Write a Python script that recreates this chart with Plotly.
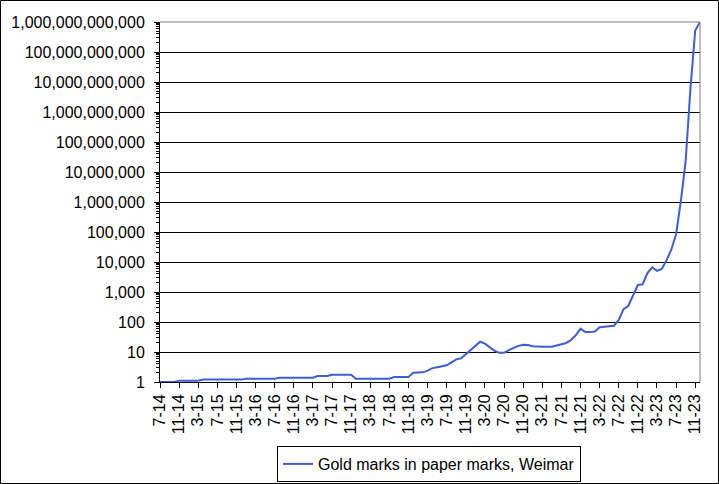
import plotly.graph_objects as go

months = [
    "7-14", "8-14", "9-14", "10-14", "11-14", "12-14",
    "1-15", "2-15", "3-15", "4-15", "5-15", "6-15", "7-15", "8-15", "9-15", "10-15", "11-15", "12-15",
    "1-16", "2-16", "3-16", "4-16", "5-16", "6-16", "7-16", "8-16", "9-16", "10-16", "11-16", "12-16",
    "1-17", "2-17", "3-17", "4-17", "5-17", "6-17", "7-17", "8-17", "9-17", "10-17", "11-17", "12-17",
    "1-18", "2-18", "3-18", "4-18", "5-18", "6-18", "7-18", "8-18", "9-18", "10-18", "11-18", "12-18",
    "1-19", "2-19", "3-19", "4-19", "5-19", "6-19", "7-19", "8-19", "9-19", "10-19", "11-19", "12-19",
    "1-20", "2-20", "3-20", "4-20", "5-20", "6-20", "7-20", "8-20", "9-20", "10-20", "11-20", "12-20",
    "1-21", "2-21", "3-21", "4-21", "5-21", "6-21", "7-21", "8-21", "9-21", "10-21", "11-21", "12-21",
    "1-22", "2-22", "3-22", "4-22", "5-22", "6-22", "7-22", "8-22", "9-22", "10-22", "11-22", "12-22",
    "1-23", "2-23", "3-23", "4-23", "5-23", "6-23", "7-23", "8-23", "9-23", "10-23", "11-23", "12-23",
]

gold_in_paper = [
    1.0, 1.0, 1.0, 1.0, 1.1, 1.1,
    1.1, 1.1, 1.1, 1.2, 1.2, 1.2, 1.2, 1.2, 1.2, 1.2, 1.2, 1.2,
    1.29, 1.29, 1.29, 1.29, 1.29, 1.29, 1.29, 1.39, 1.39, 1.39, 1.39, 1.39,
    1.39, 1.39, 1.39, 1.58, 1.58, 1.58, 1.75, 1.75, 1.75, 1.75, 1.75, 1.29,
    1.29, 1.29, 1.29, 1.29, 1.29, 1.29, 1.29, 1.47, 1.47, 1.47, 1.47, 2.05,
    2.05, 2.1, 2.4, 2.9, 3.1, 3.3, 3.6, 4.5, 5.7, 6.2, 8.5, 11,
    15.4, 22, 19, 14, 11, 9.4, 9.4, 11.5, 13.5, 16, 17.5, 17,
    15.5, 15, 15, 15, 15, 16.5, 18.5, 20, 25, 36, 60, 46,
    46, 48, 67, 69, 69, 75, 117, 270, 349, 757, 1711, 1807,
    4279, 6647, 5045, 5823, 11350, 26190, 84150, 1100100, 23540000, 6014300000,
    522000000000, 1000000000000,
]

x_tick_labels = months[::4]

y_tick_vals = [1, 10, 100, 1000, 10000, 100000, 1000000, 10000000, 100000000,
               1000000000, 10000000000, 100000000000, 1000000000000]
y_tick_text = ["1", "10", "100", "1,000", "10,000", "100,000", "1,000,000",
               "10,000,000", "100,000,000", "1,000,000,000", "10,000,000,000",
               "100,000,000,000", "1,000,000,000,000"]

series_name = "Gold marks in paper marks, Weimar"

minor_vals = [d * v for v in y_tick_vals[:-1] for d in range(2, 10)]

FONT = "Liberation Sans, Arial, sans-serif"

fig = go.Figure()
fig.add_trace(go.Scatter(
    x=months, y=gold_in_paper, mode="lines", name=series_name,
    line=dict(color="#3a5fd8", width=2), showlegend=True,
))

L, R, T, B = 160, 19, 22, 102
W, H = 719, 484
pw, ph = W - L - R, H - T - B

fig.update_layout(
    width=W, height=H,
    margin=dict(l=L, r=R, t=T, b=B, pad=0, autoexpand=False),
    paper_bgcolor="white", plot_bgcolor="white",
    font=dict(family=FONT, size=16, color="black"),
    showlegend=True,
    legend=dict(
        orientation="h", x=(429 - L) / pw, xanchor="center",
        y=(H - B - 446) / ph, yanchor="top",
        bordercolor="black", borderwidth=1, bgcolor="white",
        font=dict(family=FONT, size=16, color="black"),
        itemwidth=30,
    ),
    xaxis=dict(
        type="category", categoryorder="array", categoryarray=months,
        range=[0, len(months) - 1], automargin=False,
        tickmode="array", tickvals=x_tick_labels, ticktext=x_tick_labels,
        tickangle=-90, ticks="outside", ticklen=5, tickcolor="black",
        showline=True, linecolor="black", linewidth=1,
        showgrid=False, zeroline=False,
        tickfont=dict(family=FONT, size=16, color="black"),
    ),
    yaxis=dict(
        type="log", range=[0, 12], automargin=False,
        tickmode="array", tickvals=y_tick_vals, ticktext=y_tick_text,
        ticks="outside", ticklen=5, tickcolor="black",
        ticklabelstandoff=6,
        showline=True, linecolor="black", linewidth=1,
        showgrid=True, gridcolor="black", gridwidth=1,
        zeroline=False,
        minor=dict(tickvals=minor_vals, ticks="outside", ticklen=3,
                   tickcolor="black", showgrid=False),
        tickfont=dict(family=FONT, size=16, color="black"),
    ),
    shapes=[
        dict(type="line", xref="paper", yref="paper", x0=0, x1=1, y0=1, y1=1,
             line=dict(color="#808080", width=1), layer="above"),
        dict(type="line", xref="paper", yref="paper", x0=1, x1=1, y0=0, y1=1,
             line=dict(color="#808080", width=1), layer="above"),
        dict(type="rect", xref="paper", yref="paper",
             x0=(0.5 - L) / pw, x1=(W - 0.5 - L) / pw,
             y0=(H - B - (H - 0.5)) / ph, y1=(H - B - 0.5) / ph,
             line=dict(color="black", width=1), fillcolor="rgba(0,0,0,0)"),
    ],
)

fig.write_html(
    "out.html",
    config={"displayModeBar": False},
    post_script="document.body.style.margin='0';document.body.style.overflow='hidden';",
)
